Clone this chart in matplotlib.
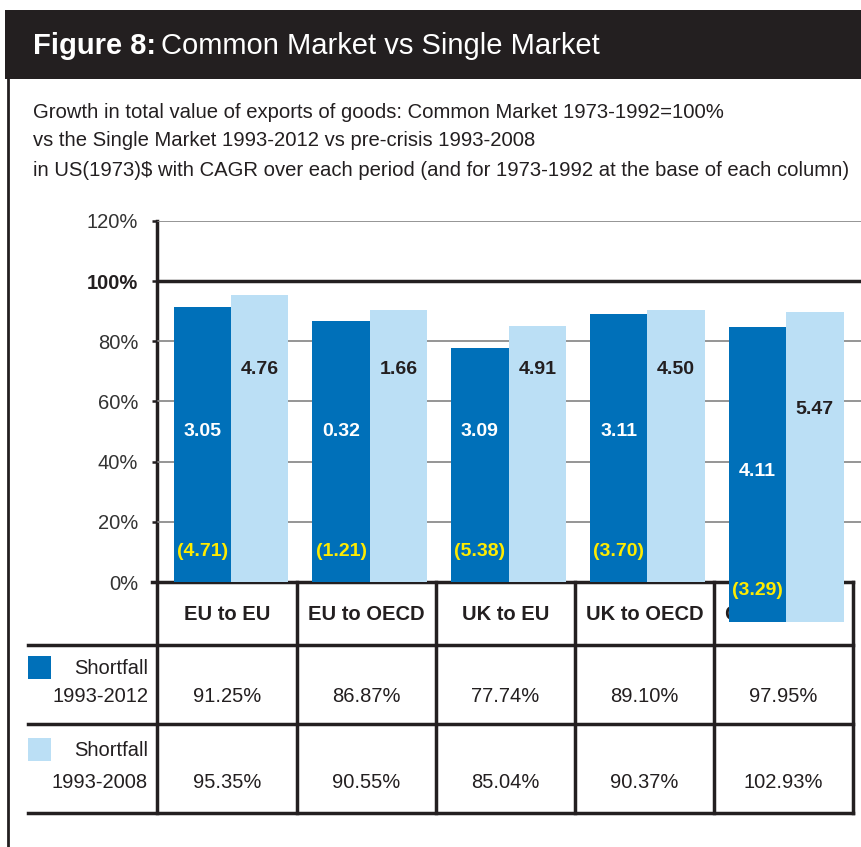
import numpy as np
import matplotlib.pyplot as plt

plt.rcParams['font.family'] = ['Liberation Sans', 'DejaVu Sans']

categories = ['EU to EU', 'EU to OECD', 'UK to EU', 'UK to OECD', 'CH to OECD']
short_2012 = [91.25, 86.87, 77.74, 89.10, 97.95]
short_2008 = [95.35, 90.55, 85.04, 90.37, 102.93]
# the last pair of columns sits lower in the source, starting below the axis
base = [0, 0, 0, 0, -13.2]
cagr_2012 = ['3.05', '0.32', '3.09', '3.11', '4.11']
cagr_2008 = ['4.76', '1.66', '4.91', '4.50', '5.47']
cagr_7392 = ['(4.71)', '(1.21)', '(5.38)', '(3.70)', '(3.29)']
yticks = [0, 20, 40, 60, 80, 100, 120]
row_labels = [('Shortfall', '1993-2012'), ('Shortfall', '1993-2008')]

dark = '#0070B9'
light = '#BBDFF5'
yellow = '#FFEB00'
ink = '#231F20'

W, H = 861, 847
fig = plt.figure(figsize=(W / 100, H / 100), dpi=100)

# background layer in pixel coordinates: header band, frame, table
bg = fig.add_axes([0, 0, 1, 1], zorder=0)
bg.set_xlim(0, W)
bg.set_ylim(H, 0)
bg.axis('off')

bg.fill_between([5, W], 10, 79, color='#231F20', lw=0)
bg.plot([8, 8], [79, H], color=ink, lw=2)
bg.text(33, 46, 'Figure 8:', color='white', fontsize=21, fontweight='bold', va='center')
bg.text(161, 46, 'Common Market vs Single Market', color='white', fontsize=21, va='center')

subtitle = ['Growth in total value of exports of goods: Common Market 1973-1992=100%',
            'vs the Single Market 1993-2012 vs pre-crisis 1993-2008',
            'in US(1973)$ with CAGR over each period (and for 1973-1992 at the base of each column)']
for i, line in enumerate(subtitle):
    bg.text(33, 112 + i * 29, line, color=ink, fontsize=14.6, va='center')

# table grid
col_x = [157, 297, 436, 575, 714, 853]
row_y = [582, 645, 724, 813]
bg.plot([152, 853], [row_y[0], row_y[0]], color=ink, lw=2.5)
for y in row_y[1:]:
    bg.plot([28, 853], [y, y], color=ink, lw=2.5)
for x in col_x[1:]:
    bg.plot([x, x], [row_y[0], row_y[-1]], color=ink, lw=2.5)
bg.plot([157, 157], [221, row_y[-1]], color=ink, lw=2.5)

for i, cat in enumerate(categories):
    cx = (col_x[i] + col_x[i + 1]) / 2
    bg.text(cx, 614, cat, ha='center', va='center', fontsize=14.5, fontweight='bold', color=ink)
    bg.text(cx, 697, f'{short_2012[i]:.2f}%', ha='center', va='center', fontsize=14.5, color=ink)
    bg.text(cx, 783, f'{short_2008[i]:.2f}%', ha='center', va='center', fontsize=14.5, color=ink)

for (l1, l2), sq, y1, y2, c in zip(row_labels, [656, 738], [668, 750], [697, 783], [dark, light]):
    bg.fill_between([28, 51], sq, sq + 23, color=c, lw=0)
    bg.text(148, y1, l1, ha='right', va='center', fontsize=14.5, color=ink)
    bg.text(148, y2, l2, ha='right', va='center', fontsize=14.5, color=ink)

# chart
ax = fig.add_axes([157 / W, (H - 582) / H, (W - 157) / W, (582 - 221) / H], zorder=1)
ax.patch.set_alpha(0)
ax.set_ylim(0, 120)
ax.set_xlim(-0.533, 4.539)
for s in ax.spines.values():
    s.set_visible(False)
ax.set_xticks([])
ax.set_yticks(yticks)
ax.set_yticklabels([f'{t}%' for t in yticks], fontsize=14.5, color='#333333')
ax.get_yticklabels()[5].set_fontweight('bold')
ax.get_yticklabels()[5].set_color(ink)
ax.tick_params(axis='y', length=3.5, width=1.8, color=ink, pad=10)

for t in yticks[1:]:
    if t == 100:
        ax.axhline(t, color=ink, lw=2.5, zorder=1)
    else:
        ax.axhline(t, color='#8C8C8C', lw=1.3, zorder=1)

x = np.arange(len(categories))
bw = 0.414
ax.bar(x - bw / 2, short_2012, bw, bottom=base, color=dark, zorder=3, clip_on=False)
ax.bar(x + bw / 2, short_2008, bw, bottom=base, color=light, zorder=3, clip_on=False)

for i in range(len(categories)):
    ax.text(x[i] - bw / 2, 50 + base[i], cagr_2012[i], ha='center', va='center',
            color='white', fontsize=14, fontweight='bold', zorder=4)
    ax.text(x[i] + bw / 2, 70.5 + base[i], cagr_2008[i], ha='center', va='center',
            color=ink, fontsize=14, fontweight='bold', zorder=4)
    ax.text(x[i] - bw / 2, 10.3 + base[i], cagr_7392[i], ha='center', va='center',
            color=yellow, fontsize=14, fontweight='bold', zorder=4, clip_on=False)

fig.savefig('out.png', dpi=100)
